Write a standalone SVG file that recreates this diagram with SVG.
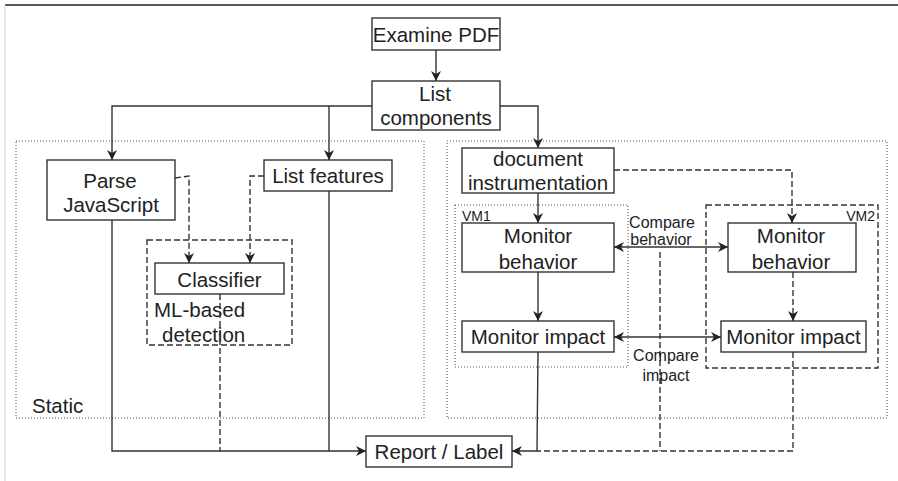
<svg xmlns="http://www.w3.org/2000/svg" width="898" height="481" viewBox="0 0 898 481">
<defs>
<marker id="ah" viewBox="0 0 10 10" refX="10" refY="5" markerWidth="10" markerHeight="10" markerUnits="userSpaceOnUse" orient="auto-start-reverse">
<path d="M0,0 L10,5 L0,10 L3,5 Z" fill="#222"/>
</marker>
</defs>
<style>
.box{fill:#fff;stroke:#333;stroke-width:1.4}
.t{font-family:"Liberation Sans",Arial,sans-serif;font-size:20.5px;fill:#222;text-anchor:middle}
.s{font-family:"Liberation Sans",Arial,sans-serif;font-size:16px;fill:#222;text-anchor:middle}
.vm{font-family:"Liberation Sans",Arial,sans-serif;font-size:14px;fill:#222}
.ln{fill:none;stroke:#333;stroke-width:1.4}
.da{fill:none;stroke:#333;stroke-width:1.4;stroke-dasharray:6 3}
.dot{fill:none;stroke:#555;stroke-width:1.1;stroke-dasharray:1 2}
</style>
<rect width="898" height="481" fill="#fff"/>
<line x1="5" y1="5" x2="898" y2="5" stroke="#222" stroke-width="1.5"/>
<line x1="5" y1="5" x2="5" y2="481" stroke="#ccc" stroke-width="1"/>

<g id="groups">
<rect x="16" y="141" width="408" height="277" class="dot"/>
<text x="32" y="413" class="t" style="text-anchor:start">Static</text>
<rect x="447" y="141" width="440" height="277" class="dot"/>
<rect x="455" y="205" width="173" height="162" class="dot"/>
<text x="462" y="221" class="vm">VM1</text>
<rect x="706" y="205" width="172" height="163" class="da"/>
<text x="875" y="221" class="vm" style="text-anchor:end">VM2</text>
<rect x="147" y="240" width="145" height="105" class="da"/>
<text x="154" y="317" class="t" style="text-anchor:start">ML-based</text>
<text x="162" y="342" class="t" style="text-anchor:start">detection</text>
</g>

<g id="connectors">
<line x1="436" y1="50" x2="436" y2="81" class="ln" marker-end="url(#ah)"/>
<polyline points="372,106 112,106 112,160" class="ln" marker-end="url(#ah)"/>
<line x1="329" y1="106" x2="329" y2="160" class="ln" marker-end="url(#ah)"/>
<polyline points="500,106 538,106 538,148" class="ln" marker-end="url(#ah)"/>
<polyline points="175,178 189,176 189,263" class="da" marker-end="url(#ah)"/>
<polyline points="264,176 250,176 250,263" class="da" marker-end="url(#ah)"/>
<polyline points="112,220 112,451 366,451" class="ln" marker-end="url(#ah)"/>
<line x1="329" y1="191" x2="329" y2="451" class="ln"/>
<line x1="220" y1="294" x2="220" y2="451" class="da"/>
<line x1="538" y1="193" x2="538" y2="223" class="ln" marker-end="url(#ah)"/>
<polyline points="614,170 792,170 792,223" class="da" marker-end="url(#ah)"/>
<line x1="614" y1="247" x2="728" y2="247" class="ln" marker-start="url(#ah)" marker-end="url(#ah)"/>
<line x1="538" y1="272" x2="538" y2="321" class="ln" marker-end="url(#ah)"/>
<line x1="793" y1="272" x2="793" y2="321" class="da" marker-end="url(#ah)"/>
<line x1="614" y1="337" x2="721" y2="337" class="ln" marker-start="url(#ah)" marker-end="url(#ah)"/>
<polyline points="538,352 537,451 512,451" class="ln" marker-end="url(#ah)"/>
<polyline points="793,352 793,451 537,451" class="da"/>
<line x1="660" y1="252" x2="660" y2="451" class="da"/>
</g>

<g id="examine-pdf">
<rect x="372" y="18" width="128" height="32" class="box"/>
<text x="436" y="42" class="t">Examine PDF</text>
</g>
<g id="list-components">
<rect x="372" y="81" width="128" height="49" class="box"/>
<text x="435" y="101" class="t">List</text>
<text x="436" y="125" class="t">components</text>
</g>
<g id="parse-javascript">
<rect x="47" y="160" width="128" height="60" class="box"/>
<text x="110" y="188" class="t">Parse</text>
<text x="111" y="212" class="t">JavaScript</text>
</g>
<g id="list-features">
<rect x="264" y="160" width="128" height="31" class="box"/>
<text x="328" y="183" class="t">List features</text>
</g>
<g id="classifier">
<rect x="155" y="263" width="129" height="31" class="box"/>
<text x="219.5" y="287" class="t">Classifier</text>
</g>
<g id="document-instrumentation">
<rect x="462" y="148" width="152" height="45" class="box"/>
<text x="538" y="166" class="t">document</text>
<text x="538" y="190" class="t">instrumentation</text>
</g>
<g id="monitor-behavior-vm1">
<rect x="462" y="223" width="152" height="49" class="box"/>
<text x="538" y="243" class="t">Monitor</text>
<text x="538" y="269" class="t">behavior</text>
</g>
<g id="monitor-behavior-vm2">
<rect x="728" y="223" width="128" height="49" class="box"/>
<text x="791" y="243" class="t">Monitor</text>
<text x="791" y="269" class="t">behavior</text>
</g>
<g id="monitor-impact-vm1">
<rect x="462" y="321" width="152" height="31" class="box"/>
<text x="538" y="344" class="t">Monitor impact</text>
</g>
<g id="monitor-impact-vm2">
<rect x="721" y="321" width="145" height="31" class="box"/>
<text x="793.5" y="344" class="t">Monitor impact</text>
</g>
<g id="compare-behavior">
<text x="662" y="228" class="s">Compare</text>
<text x="661" y="245" class="s">behavior</text>
</g>
<g id="compare-impact">
<text x="666" y="361" class="s">Compare</text>
<text x="666" y="381" class="s">impact</text>
</g>
<g id="report-label">
<rect x="366" y="436" width="146" height="31" class="box"/>
<text x="439" y="459" class="t">Report / Label</text>
</g>
</svg>
